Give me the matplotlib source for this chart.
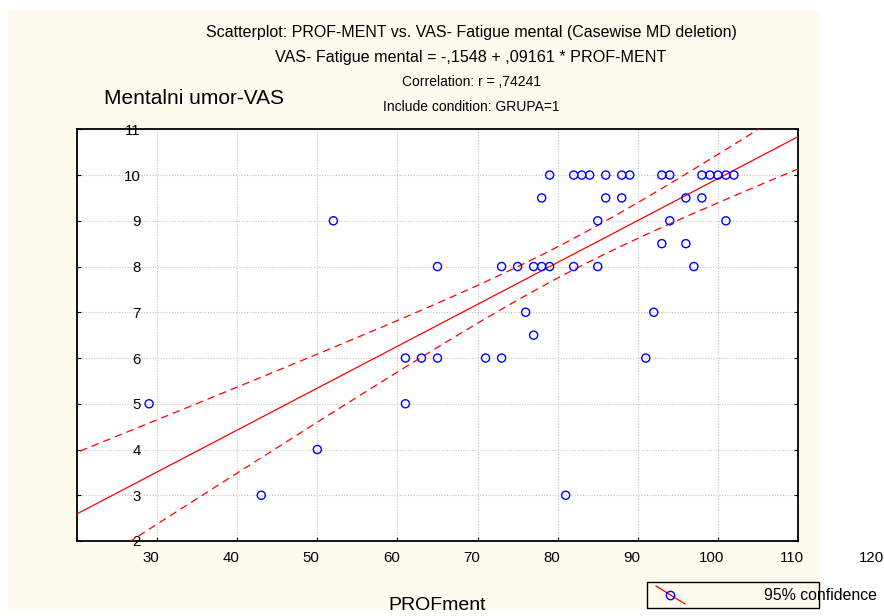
import numpy as np
import matplotlib
matplotlib.use("Agg")
import matplotlib.pyplot as plt
from matplotlib.patches import Rectangle
from matplotlib.lines import Line2D
from matplotlib.transforms import ScaledTranslation

plt.rcParams['font.family'] = ['Liberation Sans', 'DejaVu Sans']

# ---- data (PROF-MENT vs VAS- Fatigue mental) ----
prof_ment = [89, 92, 93, 94, 96, 98, 99, 103, 104, 108, 109, 110, 111, 112,
             88, 96, 98, 106, 108,
             62, 95, 104, 111,
             103, 106,
             75, 83, 85, 87, 88, 89, 92, 95, 107,
             86, 102,
             87,
             71, 73, 75, 81, 83, 101,
             39, 71,
             60,
             53, 91]
vas_mental = [10] * 14 + [9.5] * 5 + [9] * 4 + [8.5] * 2 + [8] * 9 + [7] * 2 + \
             [6.5] + [6] * 6 + [5] * 2 + [4] + [3] * 2

intercept = -0.1548
slope = 0.09161
t_crit = 2.013      # t(0.975, n-2)
band_scale = 0.80   # hidden overlapping cases narrow the band

x_ticks = [30, 40, 50, 60, 70, 80, 90, 100, 110, 120]
x_tick_labels = ['30', '40', '50', '60', '70', '80', '90', '100', '110', '120']
y_ticks = [2, 3, 4, 5, 6, 7, 8, 9, 10, 11]
y_tick_labels = ['2', '3', '4', '5', '6', '7', '8', '9', '10', '11']

title_lines = ["Scatterplot: PROF-MENT vs. VAS- Fatigue mental (Casewise MD deletion)",
               "VAS- Fatigue mental = -,1548 + ,09161 * PROF-MENT",
               "Correlation: r = ,74241",
               "Include condition: GRUPA=1"]
title_sizes = [11.5, 11.6, 10, 10]

W, H = 884, 616
fig = plt.figure(figsize=(W / 100, H / 100), dpi=100, facecolor='white')

def fx(px):
    return px / W

def fy(py):
    return 1 - py / H

cream = '#fffaee'
fig.add_artist(Rectangle((fx(8), fy(610)), fx(820) - fx(8), fy(10) - fy(610),
                         transform=fig.transFigure, facecolor=cream,
                         edgecolor='none', zorder=-10))

ax = fig.add_axes([fx(77), fy(541), fx(798) - fx(77), fy(129.3) - fy(541)])
ax.set_facecolor('white')

x = np.array(prof_ment, dtype=float)
y = np.array(vas_mental, dtype=float)
n = len(x)
xbar = x.mean()
sxx = ((x - xbar) ** 2).sum()
resid = y - (intercept + slope * x)
s = np.sqrt((resid ** 2).sum() / (n - 2))

xs = np.linspace(20, 130, 300)
yfit = intercept + slope * xs
half = band_scale * t_crit * s * np.sqrt(1 / n + (xs - xbar) ** 2 / sxx)

ax.plot(xs, yfit, color='#ff0000', lw=0.9, zorder=3)
ax.plot(xs, yfit + half, color='#ff0000', lw=0.9, ls=(0, (6, 4)), zorder=3)
ax.plot(xs, yfit - half, color='#ff0000', lw=0.9, ls=(0, (6, 4)), zorder=3)
ax.scatter(x, y, s=34, facecolors='none', edgecolors='#0000ff', linewidths=1.0, zorder=4)

ax.set_xlim(30, 120)
ax.set_ylim(2, 11)
ax.set_xticks(x_ticks, x_tick_labels)
ax.set_yticks(y_ticks, y_tick_labels)
ax.grid(True, color='#c4c4c4', ls=(0, (1, 1.5)), lw=0.8, zorder=1)
ax.set_axisbelow(True)
for sp in ax.spines.values():
    sp.set_linewidth(1.3)
ax.tick_params(axis='x', direction='in', length=3, pad=7, labelsize=10.8, top=False)
ax.tick_params(axis='y', direction='in', length=3, pad=3, labelsize=10.8, right=True)

# tick labels in this rendering sit shifted to the right
xoff = ScaledTranslation(74 / 100, 0, fig.dpi_scale_trans)
yoff = ScaledTranslation(68 / 100, 0, fig.dpi_scale_trans)
for t in ax.xaxis.get_major_ticks():
    t.label1.set_transform(t.label1.get_transform() + xoff)
for t in ax.yaxis.get_major_ticks():
    t.label1.set_transform(t.label1.get_transform() + yoff)

for i, (line, fs) in enumerate(zip(title_lines, title_sizes)):
    fig.text(fx(471), fy(33 + 24.7 * i), line, ha='center', va='center', fontsize=fs)

fig.text(fx(104), fy(98), "Mentalni umor-VAS", ha='left', va='center', fontsize=15)
fig.text(fx(437), fy(606), "PROFment", ha='center', va='center', fontsize=14)

# legend
fig.add_artist(Rectangle((fx(647), fy(608)), fx(819) - fx(647), fy(582) - fy(608),
                         transform=fig.transFigure, facecolor=cream,
                         edgecolor='black', lw=1.0, zorder=5))
fig.add_artist(Line2D([fx(656), fx(685)], [fy(586), fy(604)], transform=fig.transFigure,
                      color='#ff0000', lw=0.9, zorder=6))
fig.add_artist(Line2D([fx(670)], [fy(594.5)], transform=fig.transFigure, marker='o',
                      ms=6, mfc='none', mec='#0000ff', mew=1.0, ls='none', zorder=7))
fig.text(fx(764), fy(595), "95% confidence", ha='left', va='center', fontsize=11.4, zorder=8)

fig.savefig("out.png", dpi=100, facecolor='white')
